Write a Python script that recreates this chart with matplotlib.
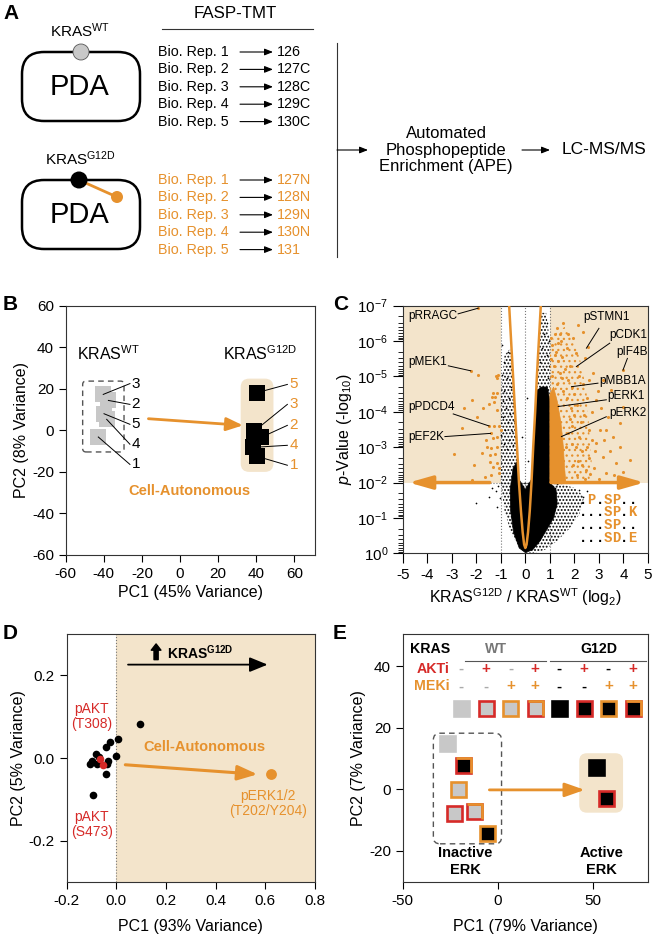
import numpy as np
import matplotlib
matplotlib.use("Agg")
import matplotlib.pyplot as plt
from matplotlib.patches import FancyBboxPatch, Rectangle, Circle, Polygon
from matplotlib.path import Path

plt.rcParams['font.family'] = ['Liberation Sans', 'DejaVu Sans']
plt.rcParams['mathtext.fontset'] = 'custom'
plt.rcParams['mathtext.rm'] = 'Liberation Sans'
plt.rcParams['mathtext.it'] = 'Liberation Sans:italic'
plt.rcParams['mathtext.bf'] = 'Liberation Sans:bold'
plt.rcParams['axes.unicode_minus'] = False
plt.rcParams['axes.linewidth'] = 0.8
plt.rcParams['hatch.linewidth'] = 0.9

ORANGE = '#E6912D'
BEIGE = '#F3E4CB'
RED = '#D62A28'
GRAY = '#C8C8C8'

# -----------------------------
# Data
# -----------------------------

# A: TMT labelling of biological replicates
rep_names = ["Bio. Rep. 1", "Bio. Rep. 2", "Bio. Rep. 3", "Bio. Rep. 4", "Bio. Rep. 5"]
wt_channels = ["126", "127C", "128C", "129C", "130C"]
g12d_channels = ["127N", "128N", "129N", "130N", "131"]

# B: PCA of replicates (rep 1..5)
b_reps = ["1", "2", "3", "4", "5"]
b_wt_pc1 = [-42.9, -37.6, -40.3, -38.5, -39.9]
b_wt_pc2 = [-3.2, 14.4, 17.3, 5.3, 8.0]
b_wt_lab_y = [-16.4, 12.5, 22.5, -6.7, 2.9]
b_g12d_pc1 = [40.4, 42.5, 38.8, 38.3, 40.2]
b_g12d_pc2 = [-12.5, -3.4, -0.5, -8.2, 18.1]
b_g12d_lab_y = [-16.8, 2.4, 12.5, -7.2, 22.1]

# C: volcano plot
vc_x = [-0.66, -0.58, -0.50, -0.42, -0.34, -0.26, -0.18, -0.11, -0.05, 0.0,
        0.05, 0.11, 0.18, 0.25, 0.32, 0.40, 0.47, 0.55, 0.63]
vc_y = [7.0, 6.0, 5.0, 4.0, 3.0, 2.0, 1.2, 0.6, 0.25, 0.15,
        0.25, 0.6, 1.2, 2.0, 3.0, 4.0, 5.0, 6.0, 7.0]

# outline of the densest part of the black cloud
core_x = [0.0, 0.3, 0.6, 0.9, 1.15, 1.3, 1.25, 1.0, 1.0, 0.9, 0.65, 0.47, 0.40, 0.33, 0.26,
          0.0, -0.27, -0.33, -0.5, -0.62, -0.6, -0.48, -0.25]
core_y = [0.02, 0.1, 0.35, 0.7, 1.0, 1.4, 1.8, 2.0, 4.3, 4.7, 4.7, 4.6, 3.8, 2.9, 2.1,
          1.8, 2.1, 2.6, 2.4, 1.8, 1.2, 0.6, 0.15]
# outline of the sparser spread of black points
cloud_x = [0.0, -0.3, -0.6, -0.85, -1.0, -1.0, -0.85, -0.6, -0.52, -0.44, -0.36, -0.28,
           0.27, 0.34, 0.42, 0.49, 0.57, 0.65, 0.85, 1.0, 1.0, 1.5, 2.0, 2.4, 2.2, 1.8,
           1.3, 0.8, 0.3]
cloud_y = [0.0, 0.2, 0.6, 1.2, 2.0, 4.5, 5.6, 5.8, 5.0, 4.0, 3.0, 2.0,
           2.0, 3.0, 4.0, 5.0, 6.0, 6.8, 6.8, 6.0, 2.0, 1.95, 1.85, 1.6, 1.1, 0.7,
           0.35, 0.1, 0.0]

black_x = [-0.95, -0.7, -0.88, -0.62, -0.97, -0.75, -0.58, -0.85, -0.68, -0.93, -0.52, -0.78,
           -0.62, -0.9, -0.47, -0.7, -0.82, -0.56, -0.98, -0.42, -0.66, -0.88, -0.5, -0.76,
           -1.1, -1.2, -1.35, -1.05, -1.5, -2.02, -1.15,
           0.12, -0.15, 0.05,
           0.9, 0.75, 0.95, 0.68, 0.88, 0.6, 0.98, 0.75, 0.92,
           2.2, 2.35, 2.5, 1.3, 1.2]
black_y = [5.9, 5.7, 5.4, 5.3, 5.05, 4.95, 4.7, 4.6, 4.4, 4.3, 4.25, 4.1,
           3.95, 3.85, 3.75, 3.7, 3.5, 3.45, 3.35, 3.3, 3.2, 3.1, 3.05, 2.95,
           1.9, 1.75, 1.85, 1.55, 1.6, 1.41, 1.3,
           2.6, 3.3, 4.4,
           6.5, 6.2, 6.0, 5.8, 5.6, 5.4, 5.3, 5.2, 4.95,
           1.8, 1.6, 1.75, 1.95, 1.85]

# outline of the densest up-regulated (orange) sites and their wider spread
ocore_x = [1.0, 1.0, 1.15, 1.3, 1.45, 1.55, 1.6, 1.65]
ocore_y = [2.0, 4.5, 4.7, 4.3, 3.7, 3.0, 2.4, 2.0]
ocloud_x = [1.0, 1.0, 1.2, 1.6, 2.0, 2.3, 2.5, 2.6, 2.7, 2.6]
ocloud_y = [2.0, 5.6, 6.2, 6.4, 6.0, 5.3, 4.5, 3.5, 2.6, 2.0]

orange_x = [1.27, 1.54, 2.15, 1.4, 1.95, 2.35, 2.56, 1.68, 2.08, 2.42, 3.98, 2.76, 3.17, 2.35,
            3.5, 2.9, 3.98, 3.37, 3.85, 3.03, 3.58, 2.9, 3.85, 3.17, 3.7, 2.49, 3.3, 3.0,
            2.6, 2.2, 2.4, 2.7, 2.0, 2.2, 1.8, 2.5, 3.3, 2.8, 2.1, 1.9, 2.3, 2.6, 3.6, 4.25,
            1.1, 1.2, 1.35, 1.5, 1.6, 1.75, 1.9, 2.1, 2.25, 2.05, 1.95, 2.15, 2.7, 2.45,
            2.85, 3.1, 2.95, 2.6, 1.45, 1.75, 1.05, 1.3, 1.55, 1.7, 1.85, 1.8, 2.0, 1.75,
            1.65, 1.9, 2.3, 2.5, 2.65, 3.45, 3.2, 4.0, 1.05, 1.15, 1.25, 1.08, 1.4, 1.5,
            1.2, 1.32,
            -1.92, -2.23, -1.91, -1.21, -1.13, -1.17, -1.33, -1.17, -1.24, -1.34, -1.27,
            -2.19, -1.48, -2.49, -1.72, -1.17, -1.99, -1.48, -1.27, -1.08, -2.57, -1.42,
            -1.0, -1.61, -1.31, -1.15, -1.56, -1.38, -1.17, -2.9, -1.78, -1.45, -1.24,
            -2.1, -1.45, -1.17, -1.31, -1.07, -1.65, -1.38, -1.07, -2.19]
orange_y = [6.36, 6.5, 6.46, 6.2, 6.08, 6.27, 5.84, 5.8, 5.65, 5.51, 5.18, 5.09, 4.9, 4.8,
            4.62, 4.34, 4.15, 3.86, 3.68, 3.49, 3.3, 3.11, 3.0, 2.73, 2.54, 2.36, 2.26, 2.1,
            2.7, 3.3, 3.9, 4.0, 4.5, 5.0, 5.3, 4.4, 3.5, 2.4, 2.2, 3.6, 2.9, 3.5, 2.2, 2.64,
            5.9, 5.6, 5.45, 5.55, 5.2, 4.9, 4.7, 4.2, 3.7, 3.0, 2.5, 2.6, 3.2, 2.1,
            2.9, 4.1, 4.6, 4.9, 6.0, 6.2, 6.1, 4.8, 4.6, 4.4, 4.1, 3.8, 3.9, 3.4,
            3.0, 3.1, 2.5, 3.0, 2.25, 2.9, 3.2, 2.3, 5.5, 5.3, 5.7, 5.0, 5.1, 4.95,
            6.2, 5.95,
            6.93, 5.16, 5.03, 5.01, 5.03, 4.96, 4.53, 4.52, 4.42, 4.41, 4.29,
            4.33, 4.21, 4.10, 4.10, 4.05, 3.86, 3.6, 3.6, 3.6, 3.53, 3.39,
            3.5, 3.2, 3.25, 3.3, 3.01, 2.97, 3.01, 2.81, 2.83, 2.78, 2.81,
            2.5, 2.59, 2.54, 2.45, 2.4, 2.17, 2.21, 2.26, 2.07]

c_labels = ["pRRAGC", "pMEK1", "pPDCD4", "pEF2K",
            "pSTMN1", "pCDK1", "pIF4B", "pMBB1A", "pERK1", "pERK2"]
c_lab_x = [-4.77, -4.77, -4.77, -4.77, 2.35, 3.41, 3.71, 3.0, 3.33, 3.44]
c_lab_y = [6.7, 5.42, 4.13, 3.3, 6.67, 6.17, 5.7, 4.88, 4.45, 3.98]
c_line_x0 = [-2.74, -3.14, -2.94, -3.28, 3.0, 3.44, 4.16, 2.96, 3.3, 3.3]
c_line_y0 = [6.77, 5.3, 3.94, 3.3, 6.36, 5.94, 5.51, 4.81, 4.34, 3.86]
c_site_x = [-1.92, -2.23, -1.48, -1.42, 2.49, 2.08, 3.98, 1.88, 1.34, 1.47]
c_site_y = [6.93, 5.16, 3.6, 3.39, 5.8, 5.28, 5.18, 4.71, 4.15, 3.3]

motifs = [".P.SP..", "...SP.K", "...SP..", "...SD.E"]

# D: PCA loadings
d_pc1 = [0.094, 0.006, -0.025, -0.041, -0.001, -0.081, -0.068, -0.108, -0.099,
         -0.079, -0.032, -0.036, -0.041, -0.095]
d_pc2 = [0.082, 0.047, 0.038, 0.027, 0.004, 0.010, 0.002, -0.015, -0.008,
         -0.014, -0.008, -0.014, -0.038, -0.089]
d_akt_pc1 = [-0.065, -0.052]
d_akt_pc2 = [-0.002, -0.016]
d_erk_pc1 = 0.622
d_erk_pc2 = -0.039

# E: PCA of inhibitor treatments
e_kras = ["WT", "WT", "WT", "WT", "G12D", "G12D", "G12D", "G12D"]
e_akti = [0, 1, 0, 1, 0, 1, 0, 1]
e_meki = [0, 0, 1, 1, 0, 0, 1, 1]
e_pc1 = [-26.9, -23.1, -20.8, -12.4, 51.7, 57.0, -5.6, -18.2]
e_pc2 = [14.9, -7.8, 0.0, -7.2, 7.1, -2.7, -14.1, 7.9]
e_key_x = [-19.4, -6.3, 6.6, 19.4, 32.2, 45.1, 58.0, 71.0]

# -----------------------------
# Helpers
# -----------------------------

W, H = 655, 944


def px_axes(l, t, r, b):
    return fig.add_axes([l / W, 1 - b / H, (r - l) / W, (b - t) / H])


def arrow(ax, x0, y0, x1, y1, color, lw, hl, hw, z=5):
    ax.annotate('', xy=(x1, y1), xytext=(x0, y0),
                arrowprops=dict(arrowstyle=f'-|>,head_length={hl},head_width={hw}',
                                color=color, lw=lw, shrinkA=0, shrinkB=0,
                                mutation_scale=10), zorder=z)


def style_axes(ax):
    for s in ax.spines.values():
        s.set_color('#333333')
    ax.tick_params(direction='out', length=5, width=0.8, labelsize=11,
                   top=False, right=False)


TOP_RIGHT = Path([(-1, 1), (1, 1), (1, -1)], [Path.MOVETO, Path.LINETO, Path.LINETO])


def square(ax, x, y, face, akti, meki, ms=10.8, mew=1.9):
    if akti:
        edge = RED
    elif meki:
        edge = ORANGE
    else:
        edge = face
    ax.plot(x, y, 's', ms=ms, mfc=face, mec=edge, mew=mew, zorder=6, clip_on=False)
    if akti and meki:
        ax.plot(x, y, marker=TOP_RIGHT, ms=ms, mfc='none', mec=ORANGE, mew=mew,
                zorder=7, clip_on=False)


fig = plt.figure(figsize=(W / 100, H / 100), dpi=100)

# -----------------------------
# Panel A (schematic, pixel coordinates)
# -----------------------------

ov = fig.add_axes([0, 0, 1, 1])
ov.set_xlim(0, W)
ov.set_ylim(H, 0)
ov.axis('off')
ov.patch.set_visible(False)

for lab, x, y in zip("ABCDE", [3, 3, 333, 3, 333], [4, 295, 295, 624, 624]):
    ov.text(x, y, lab, fontsize=15, fontweight='bold', va='top', ha='left')

ov.text(235, 14, "FASP-TMT", fontsize=12.2, ha='center', va='center')
ov.plot([162, 313], [29, 29], color='#333333', lw=0.8)

for top, cname, ccolor, chan, tcol in [(52, "KRAS$^{\\mathrm{WT}}$", GRAY, wt_channels, 'black'),
                                       (180, "KRAS$^{\\mathrm{G12D}}$", 'black', g12d_channels, ORANGE)]:
    ov.add_patch(FancyBboxPatch((22, top), 118, 69, boxstyle="round,pad=0,rounding_size=22",
                                fc='white', ec='black', lw=1.8))
    ov.text(80, top + 35, "PDA", fontsize=21, ha='center', va='center')
    ov.text(80, top - 21, cname, fontsize=11, ha='center', va='center')
    if ccolor == GRAY:
        ov.add_patch(Circle((81, top), 8, fc=GRAY, ec='#555555', lw=0.6, zorder=3))
    else:
        ov.plot([79, 117], [top, top + 17], color=ORANGE, lw=2, zorder=2)
        ov.add_patch(Circle((117, top + 17), 6, fc=ORANGE, ec='none', zorder=3))
        ov.add_patch(Circle((79, top), 8.5, fc='black', ec='none', zorder=3))
    for i, (rn, ch) in enumerate(zip(rep_names, chan)):
        y = top + i * 17.4
        ov.text(158, y, rn, fontsize=10.3, color=tcol, ha='left', va='center')
        arrow(ov, 240, y, 273, y, 'black', 0.8, 0.5, 0.2)
        ov.text(277, y, ch, fontsize=10.3, color=tcol, ha='left', va='center')

ov.plot([337, 337], [43, 257], color='#333333', lw=0.8)
arrow(ov, 337, 150, 368, 150, 'black', 0.8, 0.5, 0.2)
ov.text(446, 150, "Automated\nPhosphopeptide\nEnrichment (APE)", fontsize=12,
        ha='center', va='center', linespacing=1.15)
arrow(ov, 522, 150, 550, 150, 'black', 0.8, 0.5, 0.2)
ov.text(562, 150, "LC-MS/MS", fontsize=12.5, ha='left', va='center')

# -----------------------------
# Panel B
# -----------------------------

axB = px_axes(65.7, 305.7, 315, 555)
style_axes(axB)
axB.set_xlim(-60, 70.8)
axB.set_ylim(-60, 60)
axB.set_xticks(range(-60, 61, 20))
axB.set_yticks(range(-60, 61, 20))
axB.set_xlabel("PC1 (45% Variance)", fontsize=11.5, labelpad=3)
axB.set_ylabel("PC2 (8% Variance)", fontsize=11.5, labelpad=2)

ma_b = 1.906 / 2.078
axB.add_patch(FancyBboxPatch((31.8, -20), 17.2, 44.9, boxstyle="round,pad=0,rounding_size=4.5",
                             mutation_aspect=ma_b, fc=BEIGE, ec='none', zorder=1))
axB.add_patch(FancyBboxPatch((-51.1, -10.4), 21.7, 34.1, boxstyle="round,pad=0,rounding_size=1.8",
                             mutation_aspect=ma_b, fill=False, ec='#555555', lw=1,
                             ls=(0, (4, 3)), zorder=1))
axB.plot(b_wt_pc1, b_wt_pc2, 's', ms=11.3, color=GRAY, mew=0, zorder=3)
axB.plot(b_g12d_pc1, b_g12d_pc2, 's', ms=11.3, color='black', mew=0, zorder=3)
for i, r in enumerate(b_reps):
    axB.plot([b_wt_pc1[i], -26.3], [b_wt_pc2[i], b_wt_lab_y[i]], color='black', lw=0.7, zorder=4)
    axB.text(-25.5, b_wt_lab_y[i], r, fontsize=11, ha='left', va='center')
    axB.plot([b_g12d_pc1[i], 56.3], [b_g12d_pc2[i], b_g12d_lab_y[i]], color='black', lw=0.7, zorder=2)
    axB.text(57.5, b_g12d_lab_y[i], r, fontsize=11, ha='left', va='center', color=ORANGE)
arrow(axB, -16.6, 5.6, 33, 2.4, ORANGE, 2, 1.0, 0.4)
axB.text(-37.6, 37, "KRAS$^{\\mathrm{WT}}$", fontsize=11.5, ha='center', va='center')
axB.text(42, 37, "KRAS$^{\\mathrm{G12D}}$", fontsize=11.5, ha='center', va='center')
axB.text(5, -29, "Cell-Autonomous", fontsize=10.5, fontweight='bold', color=ORANGE,
         ha='center', va='center')

# -----------------------------
# Panel C
# -----------------------------

axC = px_axes(402.7, 305.7, 648, 553.3)
style_axes(axC)
fc_cut, p_cut = 1, 2
axC.set_xlim(-5, 5)
axC.set_ylim(0, 7)
axC.set_xticks(range(-5, 6))
axC.set_yticks(range(8))
axC.set_yticklabels(["$10^{0}$"] + ["$10^{-%d}$" % k for k in range(1, 8)])
axC.set_yticks([n + 1 - np.log10(k) for n in range(7) for k in range(2, 10)], minor=True)
axC.tick_params(which='major', length=7)
axC.tick_params(which='minor', direction='out', length=3.5, width=0.6)
axC.set_xlabel("KRAS$^{\\mathrm{G12D}}$ / KRAS$^{\\mathrm{WT}}$ (log$_{2}$)", fontsize=11.5, labelpad=3)
axC.set_ylabel("$\\it{p}$-Value (-log$_{10}$)", fontsize=11.5, labelpad=2)

axC.add_patch(Rectangle((-5, p_cut), 5 - fc_cut, 7 - p_cut, fc=BEIGE, ec='none', zorder=0))
axC.add_patch(Rectangle((fc_cut, p_cut), 5 - fc_cut, 7 - p_cut, fc=BEIGE, ec='none', zorder=0))
for xv in (-fc_cut, 0, fc_cut):
    axC.axvline(xv, color='#777777', ls=':', lw=0.8, zorder=1)
axC.plot([-1.45, 1.05], [p_cut, p_cut], color='#777777', ls=':', lw=0.8, zorder=1)

# sparse spread drawn as a dotted texture, dense part solid
axC.add_patch(Polygon(np.column_stack([cloud_x, cloud_y]), closed=True, fc='none', ec='black',
                      lw=0, hatch='.....', zorder=2))
axC.add_patch(Polygon(np.column_stack([core_x, core_y]), closed=True, fc='black', ec='black',
                      lw=0.5, zorder=2))
axC.scatter(black_x, black_y, s=1.5, color='black', lw=0, zorder=2)
axC.add_patch(Polygon(np.column_stack([ocloud_x, ocloud_y]), closed=True, fc='none', ec=ORANGE,
                      lw=0, hatch='...', zorder=3))
axC.add_patch(Polygon(np.column_stack([ocore_x, ocore_y]), closed=True, fc=ORANGE, ec=ORANGE,
                      lw=0.5, zorder=3))
axC.scatter(orange_x, orange_y, s=5, color=ORANGE, lw=0, zorder=3)
axC.plot(vc_x, vc_y, color=ORANGE, lw=1.8, zorder=4)

arrow(axC, -1.45, p_cut, -4.75, p_cut, ORANGE, 2.5, 1.4, 0.4)
arrow(axC, 1.05, p_cut, 4.85, p_cut, ORANGE, 2.5, 1.4, 0.4)

for i, lab in enumerate(c_labels):
    axC.plot([c_line_x0[i], c_site_x[i]], [c_line_y0[i], c_site_y[i]], color='black', lw=0.7, zorder=5)
    axC.text(c_lab_x[i], c_lab_y[i], lab, fontsize=8.5, ha='left', va='center', zorder=6)

pitch = 0.338
for r, m in enumerate(motifs):
    for j, ch in enumerate(m):
        axC.text(2.35 + j * pitch, 1.51 - r * 0.355, ch, fontsize=10,
                 family='Liberation Mono', fontweight='bold',
                 color='black' if ch == '.' else ORANGE, ha='center', va='center', zorder=6)

# -----------------------------
# Panel D
# -----------------------------

axD = px_axes(66.7, 634, 315, 882.3)
style_axes(axD)
axD.set_xlim(-0.2, 0.8)
axD.set_ylim(-0.3, 0.3)
axD.set_xticks([-0.2, 0.0, 0.2, 0.4, 0.6, 0.8])
axD.set_yticks([-0.2, 0.0, 0.2])
axD.xaxis.set_major_formatter(plt.FormatStrFormatter('%.1f'))
axD.yaxis.set_major_formatter(plt.FormatStrFormatter('%.1f'))
axD.set_xlabel("PC1 (93% Variance)", fontsize=11.5, labelpad=8)
axD.set_ylabel("PC2 (5% Variance)", fontsize=11.5, labelpad=2)

axD.axvspan(0, 0.8, color=BEIGE, zorder=0, lw=0)
axD.axvline(0, color='#777777', ls=':', lw=0.8, zorder=1)
axD.plot(d_pc1, d_pc2, 'o', ms=5.5, color='black', mew=0, zorder=3)
axD.plot(d_akt_pc1, d_akt_pc2, 'o', ms=5.5, color=RED, mew=0, zorder=4)
axD.plot(d_erk_pc1, d_erk_pc2, 'o', ms=7.8, color=ORANGE, mew=0, zorder=4)
arrow(axD, 0.047, 0.226, 0.609, 0.226, 'black', 1.3, 1.1, 0.45)
# bold "up" arrow in front of the label
axD.annotate('', xy=(0.16, 0.276), xytext=(0.16, 0.238),
             arrowprops=dict(arrowstyle='simple,head_length=0.45,head_width=0.7,tail_width=0.3',
                             color='black', shrinkA=0, shrinkB=0, mutation_scale=10))
axD.text(0.205, 0.256, "KRAS$^{\\mathbf{G12D}}$", fontsize=10, fontweight='bold',
         ha='left', va='center')
arrow(axD, 0.036, -0.016, 0.568, -0.039, ORANGE, 2.2, 1.2, 0.45)
axD.text(0.355, 0.028, "Cell-Autonomous", fontsize=10.5, fontweight='bold', color=ORANGE,
         ha='center', va='center')
axD.text(0.609, -0.11, "pERK1/2\n(T202/Y204)", fontsize=10, color=ORANGE,
         ha='center', va='center', linespacing=1.1)
axD.text(-0.099, 0.1, "pAKT\n(T308)", fontsize=10, color=RED, ha='center', va='center',
         linespacing=1.1)
axD.text(-0.099, -0.16, "pAKT\n(S473)", fontsize=10, color=RED, ha='center', va='center',
         linespacing=1.1)

# -----------------------------
# Panel E
# -----------------------------

axE = px_axes(402.7, 634, 648, 881.7)
style_axes(axE)
axE.set_xlim(-50, 78.8)
axE.set_ylim(-30, 50.4)
axE.set_xticks([-50, 0, 50])
axE.set_yticks([-20, 0, 20, 40])
axE.set_xlabel("PC1 (79% Variance)", fontsize=11.5, labelpad=8)
axE.set_ylabel("PC2 (7% Variance)", fontsize=11.5, labelpad=2)

ma_e = 1.907 / 3.08
axE.add_patch(FancyBboxPatch((42.7, -7.6), 23, 19.3, boxstyle="round,pad=0,rounding_size=4",
                             mutation_aspect=ma_e, fc=BEIGE, ec='none', zorder=1))
axE.add_patch(FancyBboxPatch((-33.9, -17.7), 35.8, 35.9, boxstyle="round,pad=0,rounding_size=3.5",
                             mutation_aspect=ma_e, fill=False, ec='#555555', lw=1,
                             ls=(0, (4, 3)), zorder=1))
arrow(axE, -4.5, -0.2, 45.6, -0.2, ORANGE, 2, 1.2, 0.42)

for i in range(len(e_pc1)):
    face = GRAY if e_kras[i] == "WT" else 'black'
    square(axE, e_pc1[i], e_pc2[i], face, e_akti[i], e_meki[i])
    square(axE, e_key_x[i], 26.5, face, e_akti[i], e_meki[i])
    minus_col = '#AAAAAA' if e_kras[i] == "WT" else 'black'
    axE.text(e_key_x[i], 39.2, '+' if e_akti[i] else '-', fontsize=11, fontweight='bold',
             color=RED if e_akti[i] else minus_col, ha='center', va='center')
    axE.text(e_key_x[i], 33.4, '+' if e_meki[i] else '-', fontsize=11, fontweight='bold',
             color=ORANGE if e_meki[i] else minus_col, ha='center', va='center')

axE.text(-35.7, 45.6, "KRAS", fontsize=10.2, fontweight='bold', ha='center', va='center')
axE.text(-1.2, 45.6, "WT", fontsize=10.2, fontweight='bold', color='#777777', ha='center', va='center')
axE.text(53.2, 45.6, "G12D", fontsize=10.2, fontweight='bold', ha='center', va='center')
axE.plot([-17.3, 25.5], [41.7, 41.7], color='#555555', lw=0.8)
axE.plot([27.6, 77.6], [41.7, 41.7], color='#555555', lw=0.8)
axE.text(-25.5, 39.2, "AKTi", fontsize=10.2, fontweight='bold', color=RED, ha='right', va='center')
axE.text(-25.5, 33.4, "MEKi", fontsize=10.2, fontweight='bold', color=ORANGE, ha='right', va='center')
for xc, lines in [(-17.3, ("Inactive", "ERK")), (54.4, ("Active", "ERK"))]:
    axE.text(xc, -20.8, lines[0], fontsize=10.5, fontweight='bold', ha='center', va='center')
    axE.text(xc, -26.2, lines[1], fontsize=10.5, fontweight='bold', ha='center', va='center')

fig.savefig("out.png", dpi=100)
